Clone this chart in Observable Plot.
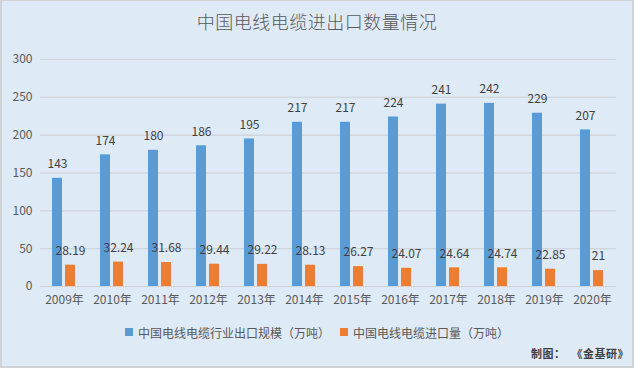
<!DOCTYPE html>
<html>
<head>
<meta charset="utf-8">
<script src="https://cdn.jsdelivr.net/npm/d3@7"></script>
<script src="https://cdn.jsdelivr.net/npm/@observablehq/plot@0.6"></script>
<style>
  html, body { margin: 0; padding: 0; background: #fff; }
  #wrap { position: relative; width: 634px; height: 368px; background: #deeaf6; overflow: hidden;
          font-family: 'Noto Sans CJK SC', 'Noto Sans', sans-serif; }
  #border { position: absolute; left: 0; top: 0; right: 0; bottom: 0; box-sizing: border-box;
            border: 1px solid #d0d3d6; border-left-width: 2px; border-right-width: 2px; border-bottom-width: 2px; pointer-events: none; }
  #title { height: 40px; line-height: 42px; text-align: center; font-size: 18px; font-weight: 300; color: #595959; letter-spacing: 0.5px; }
  #legend { position: absolute; left: 0; width: 634px; top: 324px; height: 16px; display: flex; justify-content: center;
            align-items: center; font-size: 12px; color: #595959; }
  .item { display: flex; align-items: center; margin: 0 5px; }
  .sw { width: 8px; height: 8px; margin-right: 5px; }
  #caption { position: absolute; right: 5px; top: 346px; line-height: 15px; font-size: 11px; font-weight: bold; color: #404040; letter-spacing: 0.5px; white-space: pre; }
  svg { display: block; }
</style>
</head>
<body>
<div id="wrap">
  <div id="title">中国电线电缆进出口数量情况</div>
  <div id="chart"></div>
  <div id="legend"></div>
  <div id="caption">制图：  《金基研》</div>
  <div id="border"></div>
</div>
<script>
const years = ["2009","2010","2011","2012","2013","2014","2015","2016","2017","2018","2019","2020"];
const exportVals = [143,174,180,186,195,217,217,224,241,242,229,207];
const importVals = [28.19,32.24,31.68,29.44,29.22,28.13,26.27,24.07,24.64,24.74,22.85,21];
const seriesNames = ["中国电线电缆行业出口规模（万吨）","中国电线电缆进口量（万吨）"];
const seriesColors = ["#5b9bd5","#ed7d31"];
const yTicks = [0,50,100,150,200,250,300];

const data = [];
years.forEach((y, i) => {
  data.push({year: y, series: seriesNames[0], value: exportVals[i]});
  data.push({year: y, series: seriesNames[1], value: importVals[i]});
});

const chart = Plot.plot({
  width: 634,
  height: 278,
  marginTop: 19,
  marginBottom: 32,
  marginLeft: 37,
  marginRight: 16,
  style: {fontFamily: "'Noto Sans CJK SC', 'Noto Sans', sans-serif", fontSize: "12px", color: "#595959", background: "transparent"},
  fx: {domain: years, padding: 0, tickSize: 0, tickPadding: 9, tickFormat: d => d + "年", label: null},
  x: {domain: seriesNames, axis: null, paddingInner: 0.214, paddingOuter: 0.83},
  y: {domain: [0, 300], ticks: yTicks, tickSize: 0, tickPadding: 8, label: null, grid: true},
  color: {domain: seriesNames, range: seriesColors},
  marks: [
    Plot.gridY(yTicks, {stroke: "#d0d4d9", strokeOpacity: 1}),
    Plot.barY(data, {fx: "year", x: "series", y: "value", fill: "series"}),
    Plot.text(data, {fx: "year", x: "series", y: "value", text: d => String(d.value), dy: -14, fill: "#404040", fontSize: 12})
  ]
});
document.getElementById("chart").appendChild(chart);

const legend = document.getElementById("legend");
seriesNames.forEach((n, i) => {
  const it = document.createElement("div");
  it.className = "item";
  const sw = document.createElement("span");
  sw.className = "sw";
  sw.style.background = seriesColors[i];
  const tx = document.createElement("span");
  tx.textContent = n;
  it.appendChild(sw); it.appendChild(tx);
  legend.appendChild(it);
});
</script>
</body>
</html>
